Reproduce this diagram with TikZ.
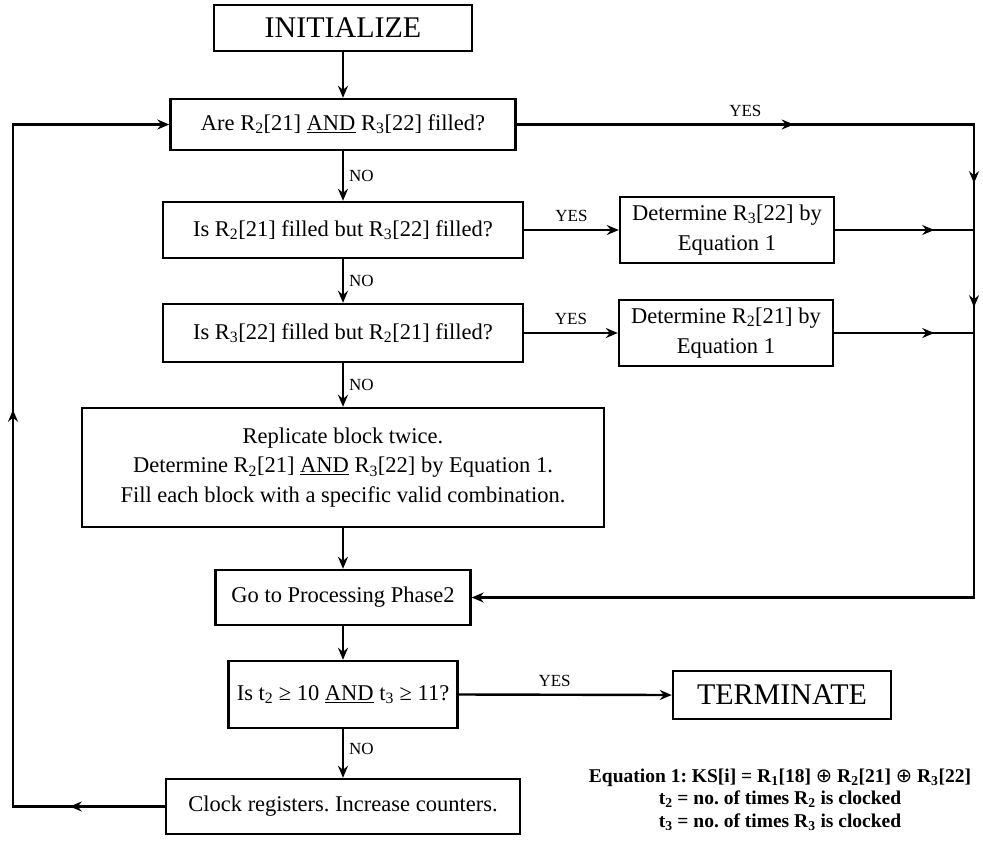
\documentclass[tikz,border=0pt]{standalone}
\usepackage{fontspec}
\setmainfont{Liberation Serif}
\newfontfamily\djv{DejaVu Sans}
\usetikzlibrary{arrows.meta,decorations.markings}
\frenchspacing
\newcommand{\sbs}[1]{\textsubscript{#1}}
\newcommand{\mainfnt}{\fontsize{22.5}{29.5}\selectfont}
\newcommand{\bigfnt}{\fontsize{30}{34}\selectfont}
\newcommand{\lblfnt}{\fontsize{17}{19}\selectfont}
\newcommand{\eqfnt}{\bfseries\fontsize{19.5}{22}\selectfont}
\begin{document}
\begin{tikzpicture}[x=1pt,y=-1pt,
  >={Stealth[length=12pt,width=10pt,inset=4pt]},
  bx/.style={draw, line width=2.4pt, inner sep=0pt, align=center, font=\mainfnt},
  lbl/.style={font=\lblfnt, inner sep=0pt},
  eqn/.style={font=\eqfnt, inner sep=0pt, anchor=base},
  ln/.style={line width=2.4pt},
  conn/.style={line width=2.4pt, ->},
  midarrows/.style={postaction={decorate}, decoration={markings, #1}}
]
\fill[white] (0,0) rectangle (983,844);
\useasboundingbox (0,0) rectangle (983,844);

% nodes
\node[bx, minimum width=258pt, minimum height=46pt, font=\bigfnt] (init) at (343,28) {INITIALIZE};
\node[bx, minimum width=345pt, minimum height=51pt] (q1) at (343,124.5) {Are R\sbs{2}[21] \underline{AND} R\sbs{3}[22] filled?};
\node[bx, minimum width=360pt, minimum height=56pt] (q2) at (343,230) {Is R\sbs{2}[21] filled but R\sbs{3}[22] filled?};
\node[bx, minimum width=214pt, minimum height=66pt] (d1) at (727,230) {Determine R\sbs{3}[22] by\\Equation 1};
\node[bx, minimum width=360pt, minimum height=58pt] (q3) at (343,333) {Is R\sbs{3}[22] filled but R\sbs{2}[21] filled?};
\node[bx, minimum width=214pt, minimum height=66pt] (d2) at (726,333) {Determine R\sbs{2}[21] by\\Equation 1};
\node[bx, minimum width=522pt, minimum height=119pt] (blk) at (343,467.5) {Replicate block twice.\\Determine R\sbs{2}[21] \underline{AND} R\sbs{3}[22] by Equation 1.\\Fill each block with a specific valid combination.};
\node[bx, minimum width=255pt, minimum height=55pt] (go) at (343,597.5) {Go to Processing Phase2};
\node[bx, minimum width=229pt, minimum height=67pt] (q4) at (343,694.5) {Is t\sbs{2} ≥ 10 \underline{AND} t\sbs{3} ≥ 11?};
\node[bx, minimum width=218pt, minimum height=48pt, font=\bigfnt] (term) at (782,695) {TERMINATE};
\node[bx, minimum width=354pt, minimum height=55pt] (clk) at (343,806.5) {Clock registers. Increase counters.};

% legend
\node[eqn] (eq1) at (780,782) {Equation 1: KS[i] = R\sbs{1}[18] {\djv\mdseries ⊕} R\sbs{2}[21] {\djv\mdseries ⊕} R\sbs{3}[22]};
\node[eqn] (eq2) at (780,804.5) {t\sbs{2} = no. of times R\sbs{2} is clocked};
\node[eqn] (eq3) at (780,827.5) {t\sbs{3} = no. of times R\sbs{3} is clocked};

% corner coordinates
\coordinate (rtop) at (974,124.5);
\coordinate (rbot) at (974,597.5);
\coordinate (ltop) at (13,124.5);
\coordinate (lbot) at (13,806.5);

% vertical flow
\draw[conn] (init.south) -- (q1.north);
\draw[conn] (q1.south) -- node[lbl, right=5pt] {NO} (q2.north);
\draw[conn] (q2.south) -- node[lbl, right=5pt] {NO} (q3.north);
\draw[conn] (q3.south) -- node[lbl, right=5pt] {NO} (blk.north);
\draw[conn] (blk.south) -- (go.north);
\draw[conn] (go.south) -- (q4.north);
\draw[conn] (q4.south) -- node[lbl, right=5pt, pos=0.4] {NO} (clk.north);

% YES branches
\draw[conn] (q2.east) -- node[lbl, above=7pt] {YES} (d1.west);
\draw[conn] (q3.east) -- node[lbl, above=7pt] {YES} (d2.west);
\draw[conn] (q4.east) -- node[lbl, above=7pt, pos=0.45] {YES} (term.west);

% right collector
\draw[conn, midarrows={mark=at position 277pt with {\arrow{>}}, mark=at position 516pt with {\arrow{>}}, mark=at position 640pt with {\arrow{>}}}]
  (q1.east) -- node[lbl, above=7pt] {YES} (rtop) -- (rbot) -- (go.east);
\draw[ln, midarrows={mark=at position 99pt with {\arrow{>}}}] (d1.east) -- (d1.east -| rtop);
\draw[ln, midarrows={mark=at position 100pt with {\arrow{>}}}] (d2.east) -- (d2.east -| rtop);

% left loop
\draw[conn, midarrows={mark=at position 95pt with {\arrow{>}}, mark=at position 548.5pt with {\arrow{>}}}]
  (clk.west) -- (lbot) -- (ltop) -- (q1.west);
\end{tikzpicture}
\end{document}
